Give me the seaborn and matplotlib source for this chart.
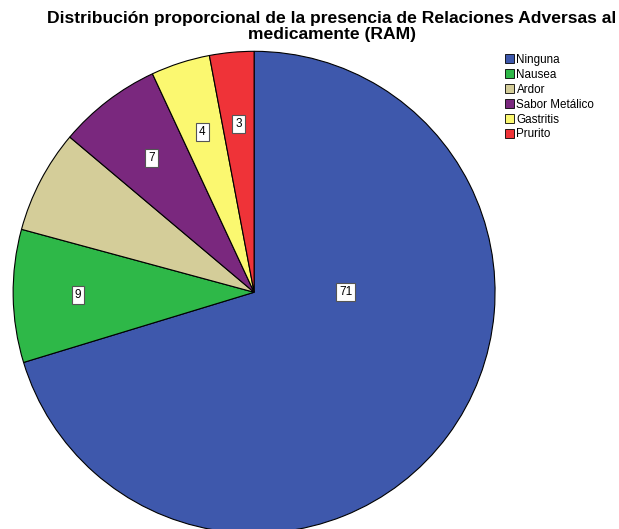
import numpy as np
import matplotlib
matplotlib.use("Agg")
import matplotlib.pyplot as plt
import seaborn as sns

# data
categorias = ["Ninguna", "Nausea", "Ardor", "Sabor Metálico", "Gastritis", "Prurito"]
valores = [71, 9, 7, 7, 4, 3]
etiquetas = ["71", "9", "", "7", "4", "3"]  # Ardor has no label in the original
colores = ["#3E58AC", "#2EB848", "#D4CD99", "#7A287E", "#FBF870", "#EF3338"]

sns.set_theme(style="white")
plt.rcParams["font.family"] = ["Liberation Sans", "DejaVu Sans"]
plt.rcParams["text.color"] = "black"

fig = plt.figure(figsize=(6.19, 5.29), dpi=100)
ax = fig.add_axes([0.021, -0.008, 0.779, 0.911])

wedges, _ = ax.pie(valores, colors=colores, startangle=90, counterclock=False,
                   wedgeprops=dict(edgecolor="black", linewidth=0.8))
ax.set_xlim(-1, 1)
ax.set_ylim(-1, 1)
ax.set_aspect("equal")

# value boxes, placed inside each wedge (Ninguna's box sits at the right)
for i, (w, lab) in enumerate(zip(wedges, etiquetas)):
    if not lab:
        continue
    if i == 0:
        ang, dist = 0.0, 0.38
    else:
        ang = np.deg2rad((w.theta1 + w.theta2) / 2)
        dist = 0.73 if i == 1 else 0.70
    ax.text(dist * np.cos(ang), dist * np.sin(ang), lab, ha="center", va="center",
            fontsize=8.5, color="black",
            bbox=dict(boxstyle="square,pad=0.25", facecolor="white",
                      edgecolor="#555555", linewidth=0.8))

fig.text(0.536, 0.980, "Distribución proporcional de la presencia de Relaciones Adversas al\nmedicamente (RAM)",
         ha="center", va="top", fontsize=12.6, fontweight="bold", linespacing=1.1,
         color="black")

leg = fig.legend(wedges, categorias, loc="upper left", bbox_to_anchor=(0.808, 0.907),
                 frameon=False, fontsize=8.4, handlelength=0.8, handleheight=0.8,
                 handletextpad=0.2, labelspacing=0.25, borderaxespad=0)
for t in leg.get_texts():
    t.set_color("black")
for h in leg.legend_handles:
    h.set_edgecolor("black")
    h.set_linewidth(0.6)

fig.savefig("out.png", dpi=100)
